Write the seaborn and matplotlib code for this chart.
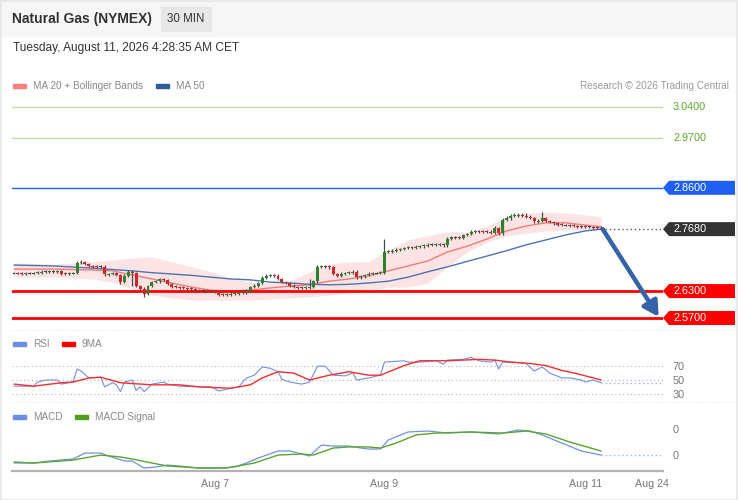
import numpy as np
import matplotlib
matplotlib.use("Agg")
import matplotlib.pyplot as plt
from matplotlib.patches import Rectangle, Polygon
from matplotlib.lines import Line2D
from matplotlib.transforms import blended_transform_factory
import seaborn as sns

# ---------------- data ----------------
first_open = 2.670
closes = [
    2.670, 2.670, 2.669, 2.670, 2.670, 2.670, 2.671, 2.673, 2.673, 2.674,
    2.674, 2.675, 2.669, 2.668, 2.670, 2.670, 2.693, 2.695, 2.690, 2.686,
    2.685, 2.684, 2.684, 2.667, 2.668, 2.670, 2.666, 2.650, 2.664, 2.673,
    2.670, 2.641, 2.635, 2.624, 2.641, 2.650, 2.652, 2.657, 2.655, 2.646,
    2.640, 2.639, 2.638, 2.637, 2.636, 2.634, 2.632, 2.631, 2.631, 2.630,
    2.630, 2.629, 2.622, 2.621, 2.622, 2.624, 2.625, 2.626, 2.627, 2.631,
    2.639, 2.642, 2.648, 2.660, 2.664, 2.666, 2.664, 2.657, 2.650, 2.648,
    2.642, 2.639, 2.638, 2.637, 2.638, 2.639, 2.652, 2.684, 2.685, 2.685,
    2.683, 2.668, 2.664, 2.669, 2.670, 2.671, 2.673, 2.661, 2.663, 2.666,
    2.669, 2.670, 2.670, 2.671, 2.717, 2.718, 2.720, 2.722, 2.724, 2.726,
    2.728, 2.727, 2.729, 2.730, 2.732, 2.733, 2.733, 2.734, 2.735, 2.732,
    2.747, 2.750, 2.750, 2.749, 2.755, 2.757, 2.762, 2.763, 2.763, 2.762,
    2.762, 2.760, 2.770, 2.759, 2.788, 2.792, 2.797, 2.798, 2.800, 2.798,
    2.795, 2.793, 2.785, 2.787, 2.793, 2.786, 2.784, 2.781, 2.778, 2.777,
    2.777, 2.776, 2.775, 2.774, 2.774, 2.773, 2.773, 2.772, 2.771, 2.768,
]
wick_up = [
    0.003, 0.003, 0.003, 0.003, 0.003, 0.003, 0.003, 0.003, 0.003, 0.003,
    0.003, 0.003, 0.003, 0.003, 0.003, 0.003, 0.004, 0.004, 0.003, 0.003,
    0.003, 0.003, 0.003, 0.003, 0.003, 0.003, 0.003, 0.003, 0.003, 0.003,
    0.003, 0.003, 0.003, 0.003, 0.003, 0.003, 0.003, 0.003, 0.003, 0.003,
    0.003, 0.003, 0.003, 0.003, 0.003, 0.003, 0.003, 0.003, 0.003, 0.003,
    0.003, 0.003, 0.003, 0.003, 0.003, 0.003, 0.003, 0.003, 0.003, 0.003,
    0.003, 0.003, 0.003, 0.003, 0.003, 0.003, 0.003, 0.003, 0.003, 0.003,
    0.003, 0.003, 0.003, 0.003, 0.003, 0.018, 0.003, 0.003, 0.003, 0.003,
    0.003, 0.003, 0.003, 0.003, 0.003, 0.003, 0.003, 0.003, 0.003, 0.003,
    0.003, 0.003, 0.003, 0.003, 0.029, 0.003, 0.003, 0.003, 0.003, 0.003,
    0.003, 0.003, 0.003, 0.003, 0.003, 0.003, 0.003, 0.003, 0.003, 0.003,
    0.003, 0.003, 0.003, 0.003, 0.003, 0.003, 0.003, 0.003, 0.003, 0.003,
    0.003, 0.003, 0.004, 0.003, 0.004, 0.005, 0.005, 0.006, 0.005, 0.005,
    0.005, 0.005, 0.003, 0.003, 0.013, 0.003, 0.003, 0.003, 0.003, 0.003,
    0.003, 0.003, 0.003, 0.003, 0.003, 0.003, 0.003, 0.003, 0.003, 0.003,
]
wick_dn = [
    0.003, 0.003, 0.003, 0.003, 0.003, 0.003, 0.003, 0.003, 0.003, 0.003,
    0.003, 0.003, 0.003, 0.003, 0.003, 0.003, 0.003, 0.003, 0.003, 0.003,
    0.003, 0.003, 0.003, 0.003, 0.003, 0.003, 0.003, 0.004, 0.003, 0.003,
    0.028, 0.003, 0.003, 0.007, 0.003, 0.003, 0.003, 0.003, 0.003, 0.003,
    0.003, 0.003, 0.003, 0.003, 0.003, 0.003, 0.003, 0.003, 0.003, 0.003,
    0.003, 0.003, 0.003, 0.003, 0.003, 0.003, 0.003, 0.003, 0.003, 0.003,
    0.003, 0.003, 0.003, 0.003, 0.003, 0.003, 0.003, 0.003, 0.003, 0.003,
    0.003, 0.003, 0.003, 0.003, 0.003, 0.003, 0.003, 0.003, 0.003, 0.003,
    0.003, 0.003, 0.003, 0.003, 0.003, 0.003, 0.003, 0.003, 0.003, 0.003,
    0.003, 0.003, 0.003, 0.003, 0.003, 0.003, 0.003, 0.003, 0.003, 0.003,
    0.003, 0.003, 0.003, 0.003, 0.003, 0.003, 0.003, 0.003, 0.003, 0.003,
    0.003, 0.003, 0.003, 0.003, 0.003, 0.003, 0.003, 0.003, 0.003, 0.003,
    0.003, 0.003, 0.003, 0.003, 0.003, 0.003, 0.003, 0.003, 0.003, 0.003,
    0.003, 0.003, 0.003, 0.003, 0.003, 0.003, 0.003, 0.003, 0.003, 0.003,
    0.003, 0.003, 0.003, 0.003, 0.003, 0.003, 0.003, 0.003, 0.003, 0.003,
]

# moving averages / bollinger, sampled every few candles
ind_idx = [0, 10, 20, 25, 30, 35, 40, 45, 50, 55, 60, 65, 70, 75, 80, 85, 90,
           95, 100, 105, 110, 115, 120, 125, 130, 135, 140, 145, 149]
ma20 = [2.679, 2.679, 2.677, 2.675, 2.666, 2.657, 2.648, 2.639, 2.632, 2.630,
        2.632, 2.637, 2.641, 2.644, 2.652, 2.657, 2.664, 2.675, 2.686, 2.697,
        2.717, 2.730, 2.746, 2.764, 2.775, 2.782, 2.782, 2.777, 2.773]
bb_upper = [2.693, 2.690, 2.695, 2.699, 2.704, 2.706, 2.695, 2.684, 2.673, 2.659,
            2.650, 2.648, 2.652, 2.673, 2.690, 2.695, 2.695, 2.722, 2.744, 2.753,
            2.762, 2.762, 2.775, 2.795, 2.804, 2.806, 2.804, 2.800, 2.795]
bb_lower = [2.661, 2.661, 2.657, 2.650, 2.635, 2.621, 2.615, 2.610, 2.610, 2.610,
            2.610, 2.612, 2.615, 2.617, 2.621, 2.626, 2.632, 2.639, 2.639, 2.648,
            2.684, 2.717, 2.739, 2.753, 2.759, 2.764, 2.766, 2.766, 2.766]
ma50 = [2.688, 2.686, 2.681, 2.678, 2.675, 2.671, 2.668, 2.665, 2.661, 2.657,
        2.655, 2.650, 2.648, 2.645, 2.644, 2.645, 2.648, 2.652, 2.661, 2.673,
        2.684, 2.696, 2.708, 2.720, 2.733, 2.744, 2.755, 2.764, 2.768]

rsi_idx = [0, 5, 6, 8, 11, 12, 15, 16, 17, 19, 22, 23, 25, 26, 27, 28, 30, 31,
           32, 33, 35, 36, 38, 39, 42, 47, 50, 52, 55, 57, 59, 61, 63, 65, 67,
           68, 70, 73, 75, 77, 79, 81, 84, 86, 87, 90, 93, 94, 99, 100, 103,
           107, 109, 110, 114, 116, 118, 121, 122, 123, 124, 127, 130, 132,
           134, 136, 139, 141, 144, 145, 147, 149]
rsi = [41, 41, 47, 50, 50, 44, 47, 66, 63, 53, 54, 40, 46, 43, 33, 47, 50, 35,
       40, 33, 44, 45, 47, 44, 41, 40, 40, 34, 38, 40, 53, 57, 69, 67, 62, 51,
       47, 44, 47, 70, 70, 57, 56, 60, 50, 53, 57, 76, 78, 76, 76, 78, 73, 79,
       80, 83, 78, 76, 79, 66, 76, 76, 74, 63, 69, 60, 53, 53, 50, 47, 50, 46]
rsi9_idx = [0, 5, 12, 15, 19, 22, 27, 35, 42, 47, 55, 60, 63, 67, 71, 75, 80,
            85, 90, 93, 99, 103, 110, 118, 122, 126, 131, 135, 139, 143, 147, 149]
rsi9 = [44, 41, 46, 47, 53, 54, 46, 43, 43, 40, 38, 43, 53, 62, 60, 50, 57,
        62, 57, 57, 71, 78, 78, 80, 79, 76, 74, 71, 64, 59, 53, 50]
rsi_levels = [70, 50, 30]

macd_idx = [0, 5, 9, 15, 18, 22, 24, 28, 30, 33, 36, 39, 42, 47, 52, 56, 59,
            62, 67, 70, 73, 75, 78, 81, 85, 88, 90, 93, 95, 100, 105, 110, 116,
            123, 128, 131, 134, 139, 144, 149]
macd = [-0.0252, -0.0252, -0.0237, -0.0222, -0.0178, -0.0178, -0.0200, -0.0237,
        -0.0237, -0.0289, -0.0281, -0.0267, -0.0274, -0.0289, -0.0289, -0.0281,
        -0.0252, -0.0215, -0.0163, -0.0163, -0.0185, -0.0200, -0.0119, -0.0126,
        -0.0126, -0.0141, -0.0148, -0.0148, -0.0081, -0.0022, -0.0015, -0.0030,
        -0.0022, -0.0037, -0.0007, -0.0015, -0.0044, -0.0104, -0.0163, -0.0193]
signal_idx = [0, 5, 15, 22, 27, 30, 35, 39, 47, 54, 61, 67, 73, 76, 81, 85, 90,
              93, 97, 102, 107, 116, 124, 130, 135, 141, 149]
signal = [-0.0244, -0.0252, -0.0230, -0.0193, -0.0207, -0.0222, -0.0252, -0.0274,
          -0.0289, -0.0289, -0.0252, -0.0193, -0.0185, -0.0193, -0.0141, -0.0133,
          -0.0133, -0.0141, -0.0104, -0.0044, -0.0030, -0.0022, -0.0030, -0.0015,
          -0.0037, -0.0096, -0.0163]

levels = [3.04, 2.97, 2.86, 2.63, 2.57]
level_labels = ["3.0400", "2.9700", "2.8600", "2.6300", "2.5700"]
date_ticks = [51, 94, 145, 162]
date_labels = ["Aug 7", "Aug 9", "Aug 11", "Aug 24"]

# ---------------- figure ----------------
sns.set_style("white")
plt.rcParams["font.family"] = ["Liberation Sans", "DejaVu Sans"]

W, H = 738, 500
fig = plt.figure(figsize=(7.38, 5.0), dpi=100, facecolor="white")


def fx(px):
    return px / W


def fy(py):
    return 1 - py / H


def px_axes(x0, y0, x1, y1):
    a = fig.add_axes([fx(x0), fy(y1), (x1 - x0) / W, (y1 - y0) / H])
    a.set_facecolor("none")
    return a


ax = px_axes(12, 97, 663, 330)
ax_rsi = px_axes(12, 352, 663, 400)
ax_macd = px_axes(12, 420, 663, 471)
XL = (-0.51, 164.7)
for a in (ax, ax_rsi, ax_macd):
    a.set_xlim(*XL)
    sns.despine(ax=a, left=True, right=True, top=True, bottom=True)
    a.set_xticks([])
    a.set_yticks([])

# header
fig.add_artist(Rectangle((0, fy(36)), 1, 36 / H, transform=fig.transFigure,
                         color="#f6f6f6", zorder=0))
fig.add_artist(Rectangle((fx(161), fy(31)), 50 / W, 24 / H, transform=fig.transFigure,
                         color="#e7e7e7", zorder=1))
fig.text(fx(12), fy(19), "Natural Gas (NYMEX)", fontsize=10, fontweight="bold",
         color="#333333", va="center")
fig.text(fx(186), fy(19), "30 MIN", fontsize=8.3, color="#333333", ha="center", va="center")
fig.text(fx(13), fy(48), "Tuesday, August 11, 2026 4:28:35 AM CET", fontsize=8.6,
         color="#333333", va="center")


def legend_item(x, y, color, label):
    fig.add_artist(Rectangle((fx(x), fy(y + 2)), 13 / W, 4 / H, transform=fig.transFigure,
                             color=color, zorder=2))
    fig.text(fx(x + 20), fy(y), label, fontsize=7.2, color="#888888", va="center")


legend_item(13, 86, "#ff7f7f", "MA 20 + Bollinger Bands")
legend_item(156, 86, "#2f5c9c", "MA 50")
fig.text(fx(729), fy(86), "Research \u00a9 2026 Trading Central", fontsize=7.2,
         color="#999999", ha="right", va="center")
legend_item(13, 344, "#6a8de6", "RSI")
legend_item(62, 344, "#ff0000", "9MA")
legend_item(13, 417, "#6a8de6", "MACD")
legend_item(75, 417, "#4fa01c", "MACD Signal")

# separators and border
for yy in (330, 402):
    fig.add_artist(Line2D([fx(12), fx(733)], [fy(yy), fy(yy)], transform=fig.transFigure,
                          color="#e2e2e2", lw=0.8, ls=(0, (1, 2))))
fig.add_artist(Rectangle((0.001, 0.001), 0.998, 0.998, transform=fig.transFigure,
                         fill=False, edgecolor="#e6e6e6", lw=1.2))

# ---------------- main price panel ----------------
ax.set_ylim(2.5433, 3.0623)
x = np.arange(len(closes))
c = np.array(closes)
o = np.array([first_open] + closes[:-1])
body_lo = np.minimum(o, c)
body_hi = np.maximum(o, c)
hi = body_hi + np.array(wick_up)
lo = body_lo - np.array(wick_dn)

ax.fill_between(ind_idx, bb_lower, bb_upper, color="#fde3e3", lw=0, zorder=1)
sns.lineplot(x=ind_idx, y=ma20, ax=ax, color="#f27c7c", lw=1.0, zorder=2, estimator=None)
sns.lineplot(x=ind_idx, y=ma50, ax=ax, color="#4b73b5", lw=1.0, zorder=2, estimator=None)

cols = np.where(c > o, "#2b842b", np.where(c < o, "#d42424", "#444444"))
heights = np.maximum(body_hi - body_lo, 0.0022)
ax.vlines(x, lo, hi, color="#4a4a4a", lw=0.9, zorder=3)
ax.bar(x, heights, bottom=(body_lo + body_hi) / 2 - heights / 2, width=0.75,
       color=cols, lw=0, zorder=4)

level_colors = ["#b9dfa3", "#b9dfa3", "#1f5ff2", "#ff0000", "#ff0000"]
level_widths = [1.0, 1.0, 1.0, 2.0, 2.0]
for lv, col, lw in zip(levels, level_colors, level_widths):
    ax.axhline(lv, color=col, lw=lw, zorder=2)

trans = blended_transform_factory(fig.transFigure, ax.transData)
half = 7.0 / 449


def tag(price, text, color):
    poly = Polygon([(fx(663), price), (fx(669), price + half), (fx(735), price + half),
                    (fx(735), price - half), (fx(669), price - half)], closed=True,
                   transform=trans, facecolor=color, edgecolor="none", clip_on=False, zorder=5)
    ax.add_patch(poly)
    ax.text(fx(673), price, text, transform=trans, color="white", fontsize=7.8,
            va="center", ha="left", clip_on=False, zorder=6)


for lv, lab in zip(levels[:2], level_labels[:2]):
    ax.text(fx(673), lv, lab, transform=trans, color="#59a92a", fontsize=7.8,
            va="center", ha="left", clip_on=False)
tag(levels[2], level_labels[2], "#1f5ff2")
tag(closes[-1], f"{closes[-1]:.4f}", "#333333")
tag(levels[3], level_labels[3], "#ff0000")
tag(levels[4], level_labels[4], "#ff0000")

ax.plot([x[-1], XL[1]], [closes[-1], closes[-1]], color="#45597a", lw=1.0,
        ls=(0, (1, 2)), zorder=3)
ax.annotate("", xy=(163.8, levels[-1]), xytext=(x[-1] + 0.4, closes[-1]),
            arrowprops=dict(arrowstyle="-|>,head_length=0.9,head_width=0.5",
                            color="#3563a8", lw=3.2, shrinkA=0, shrinkB=1),
            zorder=6)

# ---------------- RSI panel ----------------
ax_rsi.set_ylim(20.91, 90.73)
for lv in rsi_levels:
    ax_rsi.axhline(lv, color="#b0b0b0", lw=0.8, ls=(0, (1, 2.5)), zorder=1)
sns.lineplot(x=rsi_idx, y=rsi, ax=ax_rsi, color="#6f8fea", lw=0.8, estimator=None, zorder=2)
sns.lineplot(x=rsi9_idx, y=rsi9, ax=ax_rsi, color="#ff2a2a", lw=1.0, estimator=None, zorder=3)
ax_rsi.plot([rsi_idx[-1], XL[1]], [rsi[-1], rsi[-1]], color="#9db3ef", lw=1.0,
            ls=(0, (1, 2)))
ax_rsi.yaxis.tick_right()
ax_rsi.set_yticks(rsi_levels)
ax_rsi.tick_params(axis="y", length=0, pad=7, labelsize=7.8, labelcolor="#777777")
ax_rsi.set_ylabel("")
ax_rsi.set_xlabel("")

# ---------------- MACD panel ----------------
ax_macd.set_ylim(-0.0311, 0.00667)
sns.lineplot(x=macd_idx, y=macd, ax=ax_macd, color="#6f8fea", lw=0.9, estimator=None, zorder=2)
sns.lineplot(x=signal_idx, y=signal, ax=ax_macd, color="#5aa52a", lw=1.0, estimator=None,
             zorder=3)
ax_macd.plot([macd_idx[-1], XL[1]], [macd[-1], macd[-1]], color="#9db3ef", lw=1.0,
             ls=(0, (1, 2)))
ax_macd.yaxis.tick_right()
ax_macd.set_yticks([0.0, macd[-1]], labels=["0", "0"])
ax_macd.tick_params(axis="y", length=0, pad=7, labelsize=7.8, labelcolor="#777777")
ax_macd.spines["bottom"].set_visible(True)
ax_macd.spines["bottom"].set_color("#b3b3b3")
ax_macd.spines["bottom"].set_linewidth(1.6)
ax_macd.set_xticks(date_ticks, labels=date_labels)
ax_macd.set_xticks([XL[0] + 0.1, XL[1] - 0.1], minor=True)
ax_macd.tick_params(axis="x", which="major", length=0, pad=6, labelsize=7.7,
                    labelcolor="#777777")
ax_macd.tick_params(axis="x", which="minor", length=5, width=1.5, color="#b3b3b3")
ax_macd.set_ylabel("")
ax_macd.set_xlabel("")
ax.set_ylabel("")
ax.set_xlabel("")

fig.savefig("out.png", dpi=100, facecolor="white")
